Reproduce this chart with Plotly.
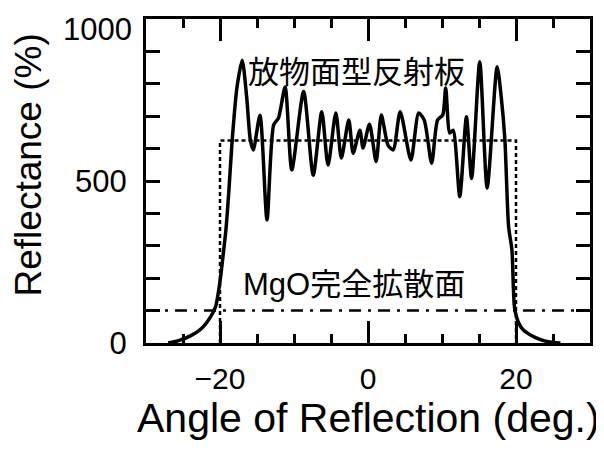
import plotly.graph_objects as go

# Solid curve: parabolic reflector (放物面型反射板)
angle = [-27.0, -25.5, -24.0, -22.5, -21.3, -20.6, -20.0, -19.5, -19.2, -18.8, -18.35,
         -17.7, -17.0, -16.4, -15.9, -15.5, -14.6, -13.65, -12.75, -12.1, -11.2, -10.3,
         -8.7, -7.4, -6.25, -5.4, -4.35, -3.6, -2.6, -2.0, -1.1, -0.67, 0.2, 1.1, 1.8,
         2.7, 3.4, 4.35, 5.8, 6.85, 7.6, 8.6, 9.4, 10.1, 10.5, 11.05, 11.5, 12.4, 13.3,
         14.0, 15.1, 16.1, 17.45, 18.0, 18.5, 19.0, 19.45, 19.8, 20.3, 21.0, 22.8, 24.3, 26.0]
reflectance = [0, 8, 22, 45, 80, 112, 190, 287, 349, 470, 627,
               790, 873, 760, 627, 596, 703, 380, 673, 694, 790, 534,
               776, 518, 714, 549, 710, 571, 688, 586, 657, 602, 675, 560, 704,
               611, 596, 714, 565, 710, 688, 555, 688, 704, 787, 648, 657, 452, 698,
               508, 868, 478, 853, 760, 627, 359, 287, 110, 65, 40, 15, 4, 0]

# Dotted design profile
design_x = [-20, -20, 20, 20]
design_y = [0, 625, 625, 0]

# MgO perfect diffuser (dash-dot)
mgo_x = [-30, 30]
mgo_y = [100, 100]

x_ticks = [-20, 0, 20]
x_ticktext = ["−20", "0", "20"]
y_ticks = [0, 500, 1000]
y_ticktext = ["0", "500", ""]   # top label drawn separately so it stays inside the page
y_top_label = "1000"

FONT = "Liberation Sans, Arial, Noto Sans CJK JP, sans-serif"

fig = go.Figure()
fig.add_trace(go.Scatter(x=mgo_x, y=mgo_y, mode="lines",
                         line=dict(color="black", width=2.5, dash="12px,7px,3px,7px"),
                         showlegend=False, hoverinfo="skip"))
fig.add_trace(go.Scatter(x=design_x, y=design_y, mode="lines",
                         line=dict(color="black", width=2.5, dash="4px,3px"),
                         showlegend=False, hoverinfo="skip"))
fig.add_trace(go.Scatter(x=angle, y=reflectance, mode="lines",
                         line=dict(color="black", width=3.5, shape="spline", smoothing=0.7),
                         showlegend=False))

fig.add_annotation(x=-1.6, y=836, text="放物面型反射板", showarrow=False,
                   font=dict(size=31, color="black", family=FONT))
fig.add_annotation(x=-1.9, y=180, text="MgO完全拡散面", showarrow=False,
                   font=dict(size=31, color="black", family=FONT))
# top y tick label
fig.add_annotation(xref="paper", yref="y", x=0, y=y_ticks[-1], text=y_top_label,
                   xanchor="right", yanchor="middle", xshift=-12, yshift=-10,
                   showarrow=False, font=dict(size=31, color="black", family=FONT))
# axis titles
fig.add_annotation(xref="paper", yref="paper", x=0.5, y=-0.2315,
                   xanchor="center", yanchor="middle", showarrow=False,
                   text="Angle of Reflection (deg.)",
                   font=dict(size=41, color="black", family=FONT))
fig.add_annotation(xref="paper", yref="paper", x=-0.265, y=0.549,
                   xanchor="center", yanchor="middle", showarrow=False,
                   textangle=-90, text="Reflectance (%)",
                   font=dict(size=37, color="black", family=FONT))

fig.update_layout(
    width=596, height=442,
    margin=dict(l=138, r=14, t=11, b=107),
    paper_bgcolor="white", plot_bgcolor="white",
    font=dict(family=FONT, color="black"),
    xaxis=dict(range=[-30, 30], tickvals=x_ticks, ticktext=x_ticktext,
               ticks="inside", ticklen=22, tickwidth=2.5, tickcolor="black",
               minor=dict(dtick=5, tick0=0, ticks="inside", ticklen=9, tickwidth=2.5,
                          tickcolor="black", showgrid=False),
               showline=True, linewidth=3, linecolor="black", mirror="ticks",
               showgrid=False, zeroline=False, tickfont=dict(size=30),
               ticklabelstandoff=7, automargin=False, ticklabeloverflow="allow"),
    yaxis=dict(range=[0, 1000], tickvals=y_ticks, ticktext=y_ticktext,
               ticks="inside", ticklen=14, tickwidth=2.5, tickcolor="black",
               minor=dict(dtick=100, tick0=0, ticks="inside", ticklen=14, tickwidth=2.5,
                          tickcolor="black", showgrid=False),
               showline=True, linewidth=3, linecolor="black", mirror="ticks",
               showgrid=False, zeroline=False, tickfont=dict(size=31),
               ticklabelstandoff=10, automargin=False, ticklabeloverflow="allow"),
)

fig.write_html("out.html")
